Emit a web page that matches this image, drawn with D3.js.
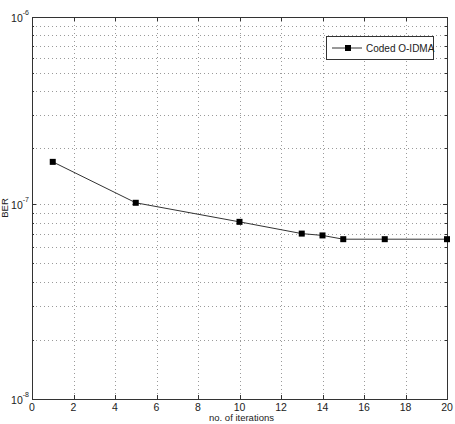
<!DOCTYPE html>
<html>
<head>
<meta charset="utf-8">
<script src="https://cdn.jsdelivr.net/npm/d3@7"></script>
<style>
  body { margin: 0; background: #fff; }
  svg text { font-family: "Liberation Sans", Arial, sans-serif; fill: #222; }
</style>
</head>
<body>
<div id="chart"></div>
<script>
// data
var iterations = [1, 5, 10, 13, 14, 15, 17, 20];
var ber = [1.68e-7, 1.015e-7, 8.1e-8, 7.05e-8, 6.9e-8, 6.6e-8, 6.6e-8, 6.6e-8];
var xTicks = [0, 2, 4, 6, 8, 10, 12, 14, 16, 18, 20];
var yDecades = [-8, -7, -6];
var seriesName = "Coded O-IDMA";

var width = 455, height = 424;
// note: "top" is taken by window.top, so use plot* names
var plotLeft = 32, plotRight = 447, plotTop = 17, plotBottom = 399;

var svg = d3.select("#chart").append("svg")
    .attr("width", width).attr("height", height);

var x = d3.scaleLinear().domain([0, 20]).range([plotLeft, plotRight]);
// the exported figure has slightly uneven decades, so map each decade separately
var yExp = d3.scaleLinear().domain(yDecades).range([plotBottom, 204, plotTop]);
var y = function(v) { return yExp(Math.log10(v)); };

// grid values (1..9 in each decade)
var yGrid = [];
[1e-8, 1e-7].forEach(function(d) {
    for (var k = 1; k <= 9; k++) yGrid.push(d * k);
});
yGrid.push(1e-6);

var grid = svg.append("g").attr("class", "grid")
    .attr("stroke", "#9a9a9a").attr("stroke-dasharray", "1,3").attr("stroke-width", 1);

grid.selectAll(".gy").data(yGrid.slice(1, -1))
    .enter().append("line")
    .attr("x1", plotLeft).attr("x2", plotRight)
    .attr("y1", function(d) { return Math.round(y(d)) + 0.5; })
    .attr("y2", function(d) { return Math.round(y(d)) + 0.5; });

grid.selectAll(".gx").data(xTicks.slice(1, -1))
    .enter().append("line")
    .attr("y1", plotTop).attr("y2", plotBottom)
    .attr("x1", function(d) { return Math.round(x(d)) + 0.5; })
    .attr("x2", function(d) { return Math.round(x(d)) + 0.5; });

// tick marks inside the box, matlab style
var ticks = svg.append("g").attr("stroke", "#333").attr("stroke-width", 1);
xTicks.forEach(function(d) {
    var px = Math.round(x(d)) + 0.5;
    ticks.append("line").attr("x1", px).attr("x2", px).attr("y1", plotBottom).attr("y2", plotBottom - 4);
    ticks.append("line").attr("x1", px).attr("x2", px).attr("y1", plotTop).attr("y2", plotTop + 4);
});
yGrid.forEach(function(d, i) {
    var py = Math.round(y(d)) + 0.5;
    var len = (i % 9 === 0) ? 4 : 2;
    ticks.append("line").attr("x1", plotLeft).attr("x2", plotLeft + len).attr("y1", py).attr("y2", py);
    ticks.append("line").attr("x1", plotRight).attr("x2", plotRight - len).attr("y1", py).attr("y2", py);
});

// frame
svg.append("rect")
    .attr("x", plotLeft + 0.5).attr("y", plotTop + 0.5)
    .attr("width", plotRight - plotLeft).attr("height", plotBottom - plotTop)
    .attr("fill", "none").attr("stroke", "#333").attr("stroke-width", 1);

// x tick labels
svg.append("g").selectAll("text").data(xTicks).enter().append("text")
    .attr("x", function(d) { return x(d); })
    .attr("y", plotBottom + 12)
    .attr("text-anchor", "middle")
    .attr("font-size", 10.5)
    .text(function(d) { return d; });

// y tick labels 10^n
var yl = svg.append("g").selectAll("text").data(yDecades).enter().append("text")
    .attr("x", 29)
    .attr("y", function(d) { return yExp(d) + 5; })
    .attr("text-anchor", "end")
    .attr("font-size", 10.5);
yl.append("tspan").text("10");
yl.append("tspan").attr("dy", -7).attr("font-size", 7).text(function(d) { return d; });

// axis labels
svg.append("text")
    .attr("x", (plotLeft + plotRight) / 2 + 2).attr("y", 421)
    .attr("text-anchor", "middle").attr("font-size", 9.5)
    .text("no. of iterations");

svg.append("text")
    .attr("transform", "translate(8," + 208 + ") rotate(-90)")
    .attr("text-anchor", "middle").attr("font-size", 9.5)
    .text("BER");

// series
var pts = iterations.map(function(d, i) { return [d, ber[i]]; });
var line = d3.line().x(function(d) { return x(d[0]); }).y(function(d) { return y(d[1]); });

svg.append("path").datum(pts)
    .attr("d", line)
    .attr("fill", "none").attr("stroke", "#333").attr("stroke-width", 1);

svg.append("g").selectAll("rect").data(pts).enter().append("rect")
    .attr("x", function(d) { return x(d[0]) - 3; })
    .attr("y", function(d) { return y(d[1]) - 3; })
    .attr("width", 6).attr("height", 6)
    .attr("fill", "#000");

// legend
var lg = svg.append("g").attr("transform", "translate(326,36)");
lg.append("rect").attr("x", 0.5).attr("y", 0.5).attr("width", 107).attr("height", 23)
    .attr("fill", "#fff").attr("stroke", "#333");
lg.append("line").attr("x1", 6).attr("x2", 36).attr("y1", 12).attr("y2", 12)
    .attr("stroke", "#333");
lg.append("rect").attr("x", 19).attr("y", 9).attr("width", 6).attr("height", 6).attr("fill", "#000");
lg.append("text").attr("x", 40).attr("y", 16).attr("font-size", 10).text(seriesName);
</script>
</body>
</html>
